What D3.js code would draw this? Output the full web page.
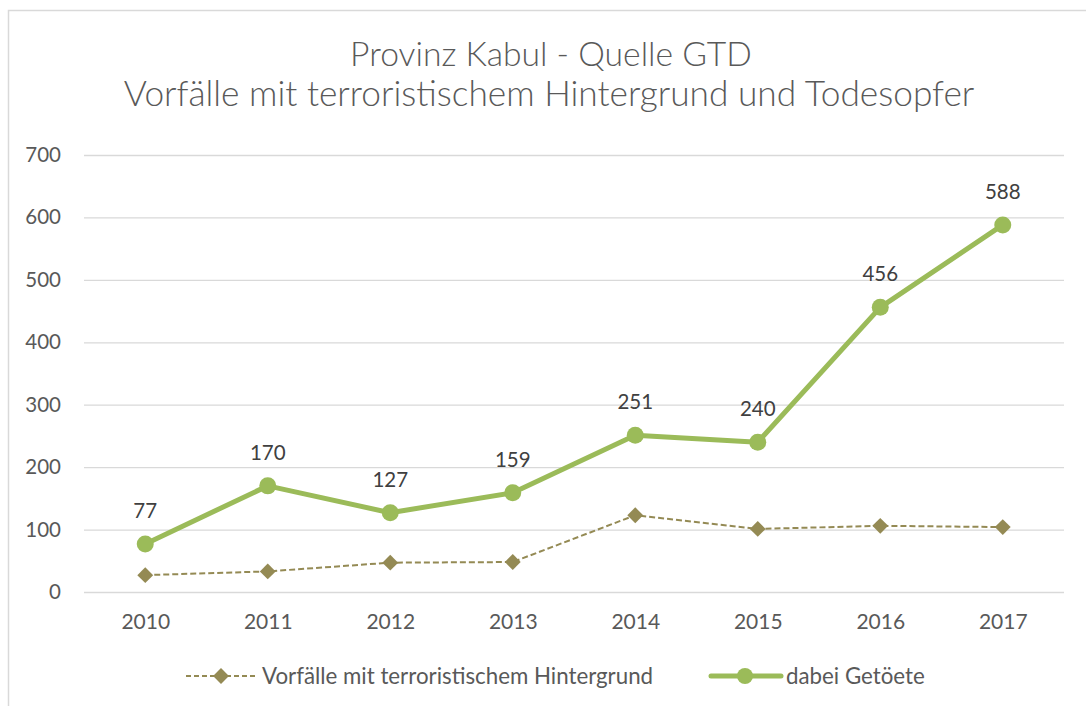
<!DOCTYPE html>
<html>
<head>
<meta charset="utf-8">
<script src="https://cdn.jsdelivr.net/npm/d3@7"></script>
<style>
  html, body { margin: 0; padding: 0; background: #fff; }
  svg { display: block; font-family: Lato, "Open Sans", sans-serif; }
</style>
</head>
<body>
<svg id="chart" width="1086" height="706"></svg>
<script>
// Years on the x axis
const years = ["2010", "2011", "2012", "2013", "2014", "2015", "2016", "2017"];
// Incidents with a terrorist background
const incidents = [27, 33, 47, 48, 123, 101, 106, 104];
// People killed in those incidents
const killed = [77, 170, 127, 159, 251, 240, 456, 588];
// Value axis ticks
const yTicks = [0, 100, 200, 300, 400, 500, 600, 700];

const titleLines = ["Provinz Kabul - Quelle GTD", "Vorfälle mit terroristischem Hintergrund und Todesopfer"];
const seriesNames = ["Vorfälle mit terroristischem Hintergrund", "dabei Getöete"];

const W = 1086, H = 706;
const plot = { left: 84, right: 1064, top: 155, bottom: 592 };
const textColor = "#595959";
const gridColor = "#D9D9D9";
const green = "#9BBB59";
const olive = "#948A54";

const svg = d3.select("#chart");

// chart area frame
svg.append("rect")
  .attr("x", 8.5).attr("y", 10.5)
  .attr("width", W + 20).attr("height", H + 20)
  .attr("fill", "#fff").attr("stroke", gridColor).attr("stroke-width", 1.5);

const x = d3.scalePoint().domain(years)
  .range([plot.left, plot.right]).padding(0.5);
const y = d3.scaleLinear().domain([0, 700])
  .range([plot.bottom, plot.top]);

// title, each line fitted to its width
const title = svg.append("g").attr("fill", textColor)
  .attr("font-weight", 300).attr("text-anchor", "middle");
const titleSpecs = [
  { text: titleLines[0], cx: 551, y: 66, width: 402 },
  { text: titleLines[1], cx: 549, y: 106, width: 851 }
];
titleSpecs.forEach(s => {
  const t = title.append("text").attr("x", s.cx).attr("y", s.y)
    .attr("font-size", 30).text(s.text);
  const w = t.node().getComputedTextLength();
  t.attr("font-size", 30 * s.width / w);
});

// gridlines + y labels
const yAxis = d3.axisLeft(y).tickValues(yTicks)
  .tickSize(-(plot.right - plot.left)).tickPadding(23);
const gy = svg.append("g")
  .attr("transform", `translate(${plot.left},0)`)
  .call(yAxis);
gy.select(".domain").remove();
gy.selectAll(".tick line").attr("stroke", gridColor).attr("stroke-width", 1.3);
gy.selectAll(".tick text").attr("fill", textColor)
  .attr("font-size", 20.5).attr("font-family", "Lato, 'Open Sans', sans-serif");

// x labels
const xAxis = d3.axisBottom(x).tickSize(0).tickPadding(22);
const gx = svg.append("g")
  .attr("transform", `translate(0,${y(0)})`)
  .call(xAxis);
gx.select(".domain").remove();
gx.selectAll(".tick text").attr("fill", textColor)
  .attr("font-size", 21).attr("font-family", "Lato, 'Open Sans', sans-serif");

// incidents series: dashed line with diamonds
const line = d3.line().x((d, i) => x(years[i])).y(d => y(d));
svg.append("path").datum(incidents)
  .attr("d", line).attr("fill", "none")
  .attr("stroke", olive).attr("stroke-width", 2)
  .attr("stroke-dasharray", "6,3");
const diamond = d3.symbol().type(d3.symbolDiamond2).size(160);
svg.append("g").selectAll("path").data(incidents).join("path")
  .attr("d", diamond)
  .attr("transform", (d, i) => `translate(${x(years[i])},${y(d)})`)
  .attr("fill", olive);

// killed series: thick line with circles
svg.append("path").datum(killed)
  .attr("d", line).attr("fill", "none")
  .attr("stroke", green).attr("stroke-width", 5)
  .attr("stroke-linejoin", "round");
svg.append("g").selectAll("circle").data(killed).join("circle")
  .attr("cx", (d, i) => x(years[i])).attr("cy", d => y(d))
  .attr("r", 8.5).attr("fill", green);

// value labels above the killed series
svg.append("g").selectAll("text").data(killed).join("text")
  .attr("x", (d, i) => x(years[i])).attr("y", d => y(d) - 26)
  .attr("text-anchor", "middle").attr("fill", "#404040")
  .attr("font-size", 20.5).text(d => d);

// legend
const lg = svg.append("g").attr("font-size", 22.3).attr("fill", textColor);
const ly = 676;
lg.append("line").attr("x1", 186).attr("x2", 256).attr("y1", ly).attr("y2", ly)
  .attr("stroke", olive).attr("stroke-width", 2).attr("stroke-dasharray", "5,3");
lg.append("path").attr("d", diamond)
  .attr("transform", `translate(221,${ly})`).attr("fill", olive);
lg.append("text").attr("x", 262).attr("y", ly + 8).text(seriesNames[0]);
lg.append("line").attr("x1", 711).attr("x2", 781).attr("y1", ly).attr("y2", ly)
  .attr("stroke", green).attr("stroke-width", 5).attr("stroke-linecap", "round");
lg.append("circle").attr("cx", 745).attr("cy", ly).attr("r", 8).attr("fill", green);
lg.append("text").attr("x", 786).attr("y", ly + 8).text(seriesNames[1]);
</script>
</body>
</html>
